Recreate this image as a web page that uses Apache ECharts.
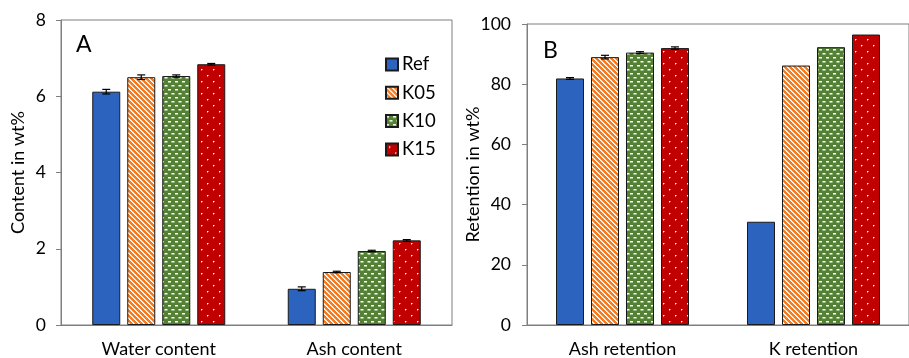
<!DOCTYPE html>
<html>
<head>
<meta charset="utf-8">
<script src="https://cdn.jsdelivr.net/npm/echarts@6/dist/echarts.min.js"></script>
<style>html,body{margin:0;padding:0;background:#fff}#c{width:909px;height:358px}</style>
</head>
<body>
<div id="c"></div>
<script>
// ---- data ----
const categoriesA = ['Water content', 'Ash content'];
const categoriesB = ['Ash retention', 'K retention'];
const seriesNames = ['Ref', 'K05', 'K10', 'K15'];
const yTicksA = [0, 2, 4, 6, 8];
const yTicksB = [0, 20, 40, 60, 80, 100];

const contentRef = [6.12, 0.95];
const contentK05 = [6.50, 1.39];
const contentK10 = [6.53, 1.94];
const contentK15 = [6.84, 2.22];
const contentRefErr = [0.06, 0.05];
const contentK05Err = [0.06, 0.02];
const contentK10Err = [0.03, 0.02];
const contentK15Err = [0.02, 0.02];

const retentionRef = [81.9, 34.3];
const retentionK05 = [89.0, 86.2];
const retentionK10 = [90.5, 92.3];
const retentionK15 = [92.0, 96.5];
const retentionRefErr = [0.3, 0];
const retentionK05Err = [0.6, 0];
const retentionK10Err = [0.3, 0];
const retentionK15Err = [0.4, 0];

// ---- patterns ----
function tile(w, h, bg, draw) {
  const c = document.createElement('canvas');
  c.width = w; c.height = h;
  const ctx = c.getContext('2d');
  ctx.fillStyle = bg; ctx.fillRect(0, 0, w, h);
  draw(ctx);
  return c;
}
const orangeTile = tile(5, 5, '#F47B20', ctx => {
  for (let y = 0; y < 5; y++) for (let x = 0; x < 5; x++) {
    const m = ((x - y) % 5 + 5) % 5;
    if (m === 0) { ctx.fillStyle = '#ffffff'; ctx.fillRect(x, y, 1, 1); }
    else if (m === 1) { ctx.fillStyle = '#FCE0CA'; ctx.fillRect(x, y, 1, 1); }
  }
});
const greenTile = tile(7, 8, '#548235', ctx => {
  ctx.fillStyle = '#ffffff';
  ctx.fillRect(0, 1, 3, 1); ctx.fillRect(3.5, 5, 3, 1);
  ctx.fillStyle = 'rgba(255,255,255,0.5)';
  ctx.fillRect(0, 2, 3, 1); ctx.fillRect(3.5, 6, 3, 1);
});
const redTile = tile(12, 12, '#C00000', ctx => {
  ctx.fillStyle = '#ffffff';
  ctx.fillRect(3, 3, 1, 1); ctx.fillRect(9, 9, 1, 1);
  ctx.fillStyle = 'rgba(255,255,255,0.45)';
  ctx.fillRect(4, 3, 1, 1); ctx.fillRect(3, 4, 1, 1);
  ctx.fillRect(10, 9, 1, 1); ctx.fillRect(9, 10, 1, 1);
});
const fills = [
  '#2B63BF',
  { image: orangeTile, repeat: 'repeat' },
  { image: greenTile, repeat: 'repeat' },
  { image: redTile, repeat: 'repeat' }
];

const FONT = 'Lato';
const BAR_W = 28, BAR_GAP = 7;
const axisColor = '#7F7F7F';

function errRender(params, api) {
  const cat = api.value(0), val = api.value(1), err = api.value(2), si = api.value(3);
  if (!err) return;
  const off = (si - 1.5) * (BAR_W + BAR_GAP);
  const t = api.coord([cat, val + err]);
  const b = api.coord([cat, val - err]);
  const x = t[0] + off;
  const st = { stroke: '#000', lineWidth: 1.2 };
  return {
    type: 'group',
    children: [
      { type: 'line', shape: { x1: x, y1: t[1], x2: x, y2: b[1] }, style: st },
      { type: 'line', shape: { x1: x - 4, y1: t[1], x2: x + 4, y2: t[1] }, style: st },
      { type: 'line', shape: { x1: x - 4, y1: b[1], x2: x + 4, y2: b[1] }, style: st }
    ]
  };
}

const valsA = [contentRef, contentK05, contentK10, contentK15];
const errsA = [contentRefErr, contentK05Err, contentK10Err, contentK15Err];
const valsB = [retentionRef, retentionK05, retentionK10, retentionK15];
const errsB = [retentionRefErr, retentionK05Err, retentionK10Err, retentionK15Err];

const series = [];
[[valsA, errsA, 0], [valsB, errsB, 1]].forEach(([vals, errs, g]) => {
  vals.forEach((v, i) => {
    series.push({
      type: 'bar', name: seriesNames[i], xAxisIndex: g, yAxisIndex: g,
      data: v, barWidth: BAR_W, barGap: (BAR_GAP / BAR_W * 100) + '%',
      itemStyle: { color: fills[i], borderColor: '#1a1a1a', borderWidth: 1 },
      emphasis: { disabled: true }, animation: false
    });
  });
  const errData = [];
  vals.forEach((v, i) => v.forEach((val, c) => errData.push([c, val, errs[i][c], i])));
  series.push({
    type: 'custom', xAxisIndex: g, yAxisIndex: g, renderItem: errRender,
    data: errData, encode: { x: 0, y: 1 }, z: 10, animation: false, silent: true
  });
});

function yAxis(g, ticks, name, gap, margin) {
  return {
    type: 'value', gridIndex: g, min: ticks[0], max: ticks[ticks.length - 1],
    interval: ticks[1] - ticks[0],
    name: name, nameLocation: 'middle', nameGap: gap, nameMoveOverlap: false,
    nameTextStyle: { fontFamily: FONT, fontSize: 18, color: '#000' },
    axisLine: { show: true, lineStyle: { color: axisColor } },
    axisTick: { show: true, length: 5, lineStyle: { color: axisColor } },
    axisLabel: { fontFamily: FONT, fontSize: 17.5, color: '#000', margin: margin },
    splitLine: { show: false }
  };
}
function xAxis(g, cats) {
  return {
    type: 'category', gridIndex: g, data: cats,
    axisLine: { show: true, lineStyle: { color: axisColor } },
    axisTick: { show: false },
    axisLabel: { fontFamily: FONT, fontSize: 18, color: '#000', margin: 15 }
  };
}

const chart = echarts.init(document.getElementById('c'), null, { renderer: 'canvas' });
chart.setOption({
  backgroundColor: '#fff',
  animation: false,
  grid: [
    { left: 61, top: 20, width: 391, height: 305, show: true, borderColor: axisColor, borderWidth: 1 },
    { left: 527, top: 24, width: 391, height: 301, show: true, borderColor: axisColor, borderWidth: 1 }
  ],
  xAxis: [xAxis(0, categoriesA), xAxis(1, categoriesB)],
  yAxis: [yAxis(0, yTicksA, 'Content in wt%', 34, 15), yAxis(1, yTicksB, 'Retention in wt%', 45, 16)],
  legend: {
    data: seriesNames, orient: 'vertical', left: 380, top: 50,
    icon: 'rect', itemWidth: 12, itemHeight: 12, itemGap: 9.3,
    textStyle: { fontFamily: FONT, fontSize: 18.5, color: '#000', padding: [0, 0, 0, -1] },
    selectedMode: false
  },
  graphic: [
    { type: 'text', left: 76, top: 33, style: { text: 'A', fontFamily: FONT, fontSize: 23, fill: '#000' } },
    { type: 'text', left: 543, top: 39, style: { text: 'B', fontFamily: FONT, fontSize: 23, fill: '#000' } }
  ],
  series: series
});
</script>
</body>
</html>
